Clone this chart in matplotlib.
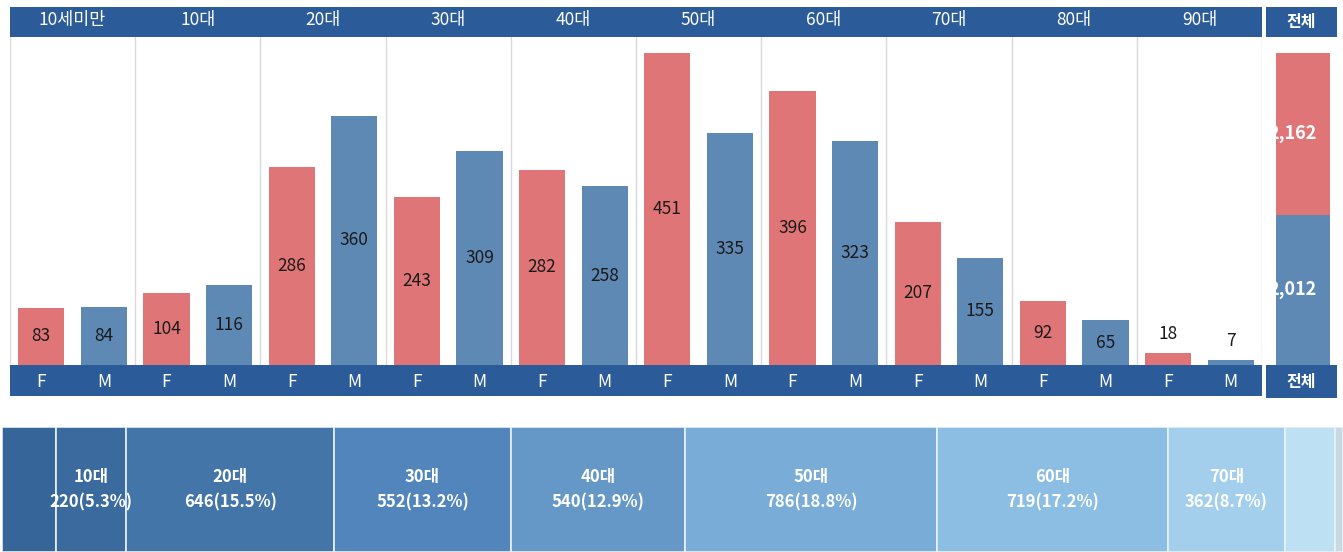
import matplotlib
matplotlib.use('Agg')
import matplotlib.pyplot as plt

plt.rcParams['font.family'] = ['Noto Sans CJK KR', 'DejaVu Sans']

# 데이터
age_groups = ['10세미만', '10대', '20대', '30대', '40대', '50대', '60대', '70대', '80대', '90대']
female = [83, 104, 286, 243, 282, 451, 396, 207, 92, 18]
male = [84, 116, 360, 309, 258, 335, 323, 155, 65, 7]
sex_labels = ['F', 'M']
total_label = '전체'

# 색상
HEADER = '#2b5c99'
RED = '#e07577'
BLUE = '#5f89b5'
GRID = '#d9d9d9'
tree_colors = ['#36659a', '#3a6a9e', '#4375a9', '#5185bb', '#6598c6',
               '#79acd6', '#8cbde2', '#a3cfec', '#bde1f3', '#cad8e4']

W, H = 1343, 552
fig = plt.figure(figsize=(W / 100, H / 100), dpi=100)
fig.patch.set_facecolor('white')


def px_axes(x0, y0, x1, y1):
    # 픽셀 좌표(위에서부터)를 figure 좌표로 변환
    return fig.add_axes([x0 / W, 1 - y1 / H, (x1 - x0) / W, (y1 - y0) / H])


def clean(a):
    a.set_xticks([])
    a.set_yticks([])
    for s in a.spines.values():
        s.set_visible(False)


n = len(age_groups)
values = []
colors = []
for f, m in zip(female, male):
    values += [f, m]
    colors += [RED, BLUE]
xs = list(range(len(values)))

# 상단 헤더
ax_head = px_axes(10, 7, 1262, 37)
ax_head.set_facecolor(HEADER)
ax_head.set_xlim(-0.5, 2 * n - 0.5)
ax_head.set_ylim(0, 1)
for i, g in enumerate(age_groups):
    ax_head.text(2 * i + 0.5, 0.55, g, color='white', fontsize=12.5,
                 ha='center', va='center')
clean(ax_head)

# 막대 그래프
ax = px_axes(10, 37, 1262, 365)
ax.bar(xs, values, width=0.74, color=colors)
ax.set_xlim(-0.5, 2 * n - 0.5)
ax.set_ylim(0, 474)
for k in range(n + 1):
    ax.axvline(2 * k - 0.5, color=GRID, lw=1)
for x, v in zip(xs, values):
    if v >= 30:
        ax.text(x, v / 2, str(v), ha='center', va='center', fontsize=12.5, color='#1a1a1a')
    else:
        ax.text(x, v + 14, str(v), ha='center', va='bottom', fontsize=12.5, color='#1a1a1a')
clean(ax)

# 하단 F/M 밴드
ax_sex = px_axes(10, 365, 1262, 396)
ax_sex.set_facecolor(HEADER)
ax_sex.set_xlim(-0.5, 2 * n - 0.5)
ax_sex.set_ylim(0, 1)
for x in xs:
    ax_sex.text(x, 0.45, sex_labels[x % 2], color='white', fontsize=12.5,
                ha='center', va='center')
clean(ax_sex)

# 전체 컬럼
for (y0, y1) in [(7, 37), (365, 398)]:
    a = px_axes(1266, y0, 1337, y1)
    a.set_facecolor(HEADER)
    a.text(0.5, 0.5, total_label, color='white', fontsize=11.5, fontweight='bold',
           ha='center', va='center', transform=a.transAxes)
    clean(a)

ax_tot = px_axes(1266, 37, 1337, 365)
tot_f = sum(female)
tot_m = sum(male)
ax_tot.bar([0.52], [tot_m], width=0.76, color=BLUE)
ax_tot.bar([0.52], [tot_f], bottom=[tot_m], width=0.76, color=RED)
ax_tot.set_xlim(0, 1)
ax_tot.set_ylim(0, 4388)
ax_tot.text(0.38, tot_m + tot_f / 2, f'{tot_f:,}', color='white', fontsize=13,
            fontweight='bold', ha='center', va='center', clip_on=True)
ax_tot.text(0.38, tot_m / 2, f'{tot_m:,}', color='white', fontsize=13,
            fontweight='bold', ha='center', va='center', clip_on=True)
clean(ax_tot)

# 하단 연령대 비율 막대
ax_tree = px_axes(2, 427, 1343, 552)
totals = [f + m for f, m in zip(female, male)]
grand = sum(totals)
left = 0
for i, (g, t) in enumerate(zip(age_groups, totals)):
    ax_tree.barh(0, t, left=left, height=1, color=tree_colors[i],
                 edgecolor='#e8f2f8', linewidth=1.2)
    if 0.05 <= t / grand:
        cx = left + t / 2
        ax_tree.text(cx, 0.1, g, color='white', fontsize=12, fontweight='bold',
                     ha='center', va='center')
        ax_tree.text(cx, -0.1, f'{t}({t / grand * 100:.1f}%)', color='white',
                     fontsize=12, fontweight='bold', ha='center', va='center')
    left += t
ax_tree.set_xlim(0, grand)
ax_tree.set_ylim(-0.5, 0.5)
clean(ax_tree)

fig.savefig('out.png', dpi=100, facecolor='white')
